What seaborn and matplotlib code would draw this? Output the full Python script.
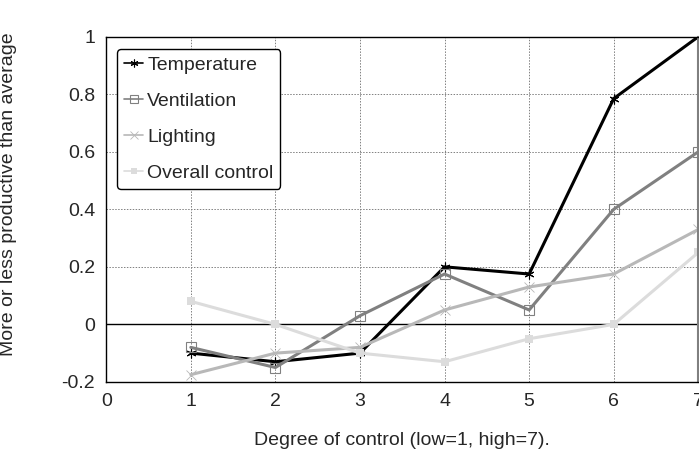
import numpy as np
import pandas as pd
import matplotlib
matplotlib.use('Agg')
import matplotlib.pyplot as plt
import seaborn as sns

# Values
control = [1, 2, 3, 4, 5, 6, 7]
temperature = [-0.10, -0.13, -0.10, 0.20, 0.175, 0.785, 1.00]
ventilation = [-0.08, -0.15, 0.03, 0.175, 0.05, 0.40, 0.60]
lighting = [-0.175, -0.10, -0.08, 0.05, 0.13, 0.175, 0.33]
overall = [0.08, 0.00, -0.10, -0.13, -0.05, 0.00, 0.25]

x_ticks = [0, 1, 2, 3, 4, 5, 6, 7]
y_ticks = [-0.2, 0, 0.2, 0.4, 0.6, 0.8, 1]
y_tick_labels = ['-0.2', '0', '0.2', '0.4', '0.6', '0.8', '1']

sns.set_style('white')
plt.rcParams['font.family'] = ['Liberation Sans', 'DejaVu Sans']

fig = plt.figure(figsize=(6.99, 4.59), dpi=100)
ax = fig.add_axes([0.152, 0.168, 0.847, 0.752])

series = [
    ('Temperature', temperature, '#000000', dict(marker=(6, 2, 0), markersize=7, markeredgewidth=0.8)),
    ('Ventilation', ventilation, '#808080', dict(marker='s', markersize=7, markerfacecolor='none', markeredgewidth=0.8)),
    ('Lighting', lighting, '#b8b8b8', dict(marker='x', markersize=7, markeredgewidth=0.6)),
    ('Overall control', overall, '#dcdcdc', dict(marker='s', markersize=6, markeredgewidth=0)),
]

for name, vals, color, mk in series:
    sns.lineplot(x=control, y=vals, ax=ax, color=color, linewidth=2.2, label=name,
                 markeredgecolor=color, **mk)

ax.axhline(0, color='black', linewidth=1, zorder=1)

ax.set_xlim(0, 7)
ax.set_ylim(-0.2, 1)
ax.set_xticks(x_ticks)
ax.set_yticks(y_ticks)
ax.set_yticklabels(y_tick_labels)
ax.tick_params(axis='both', length=0, labelsize=14, pad=8)

ax.grid(True, linestyle=(0, (1.5, 1.5)), color='#808080', linewidth=0.7)
ax.set_axisbelow(True)

for side in ['left', 'top', 'bottom']:
    ax.spines[side].set_color('black')
    ax.spines[side].set_linewidth(1)
ax.spines['right'].set_color('#808080')
ax.spines['right'].set_linewidth(1.5)

ax.set_xlabel('Degree of control (low=1, high=7).', fontsize=14, labelpad=16)
ax.set_ylabel('More or less productive than average', fontsize=14)
ax.yaxis.set_label_coords(-0.15, 0.545)

leg = ax.legend(loc='upper left', bbox_to_anchor=(0.012, 0.975), fontsize=14,
                frameon=True, fancybox=True, handlelength=1.0, handletextpad=0.2,
                borderpad=0.35, labelspacing=0.95, borderaxespad=0.2,
                markerscale=0.8)
leg.get_frame().set_edgecolor('black')
leg.get_frame().set_linewidth(1)
leg.get_frame().set_alpha(1)
for line in leg.get_lines():
    line.set_linewidth(1.2)

fig.savefig('out.png', dpi=100)
